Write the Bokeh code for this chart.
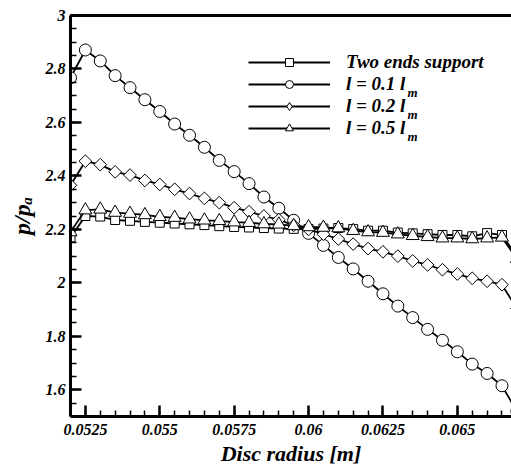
import math
from bokeh.plotting import figure
from bokeh.models import Range1d, FixedTicker, LinearAxis, Legend, LegendItem, Label
from bokeh.embed import file_html
from bokeh.resources import INLINE

# ---- data ----
radius = [0.052, 0.0525, 0.053, 0.0535, 0.054, 0.0545, 0.055, 0.0555, 0.056, 0.0565,
          0.057, 0.0575, 0.058, 0.0585, 0.059, 0.0595, 0.06, 0.0605, 0.061, 0.0615,
          0.062, 0.0625, 0.063, 0.0635, 0.064, 0.0645, 0.065, 0.0655, 0.066, 0.0665, 0.067]

two_ends = [2.170, 2.250, 2.248, 2.235, 2.232, 2.228, 2.225, 2.222, 2.219, 2.216,
            2.212, 2.209, 2.207, 2.205, 2.203, 2.202, 2.201, 2.203, 2.205, 2.201,
            2.195, 2.195, 2.188, 2.185, 2.182, 2.179, 2.179, 2.174, 2.186, 2.179, 2.100]

l_01 = [2.767, 2.871, 2.830, 2.775, 2.730, 2.685, 2.641, 2.594, 2.552, 2.507,
        2.458, 2.416, 2.371, 2.321, 2.279, 2.234, 2.185, 2.140, 2.095, 2.052,
        2.006, 1.959, 1.913, 1.870, 1.826, 1.785, 1.742, 1.696, 1.661, 1.615, 1.520]

l_02 = [2.365, 2.455, 2.442, 2.415, 2.403, 2.383, 2.368, 2.350, 2.334, 2.316,
        2.300, 2.281, 2.266, 2.250, 2.236, 2.215, 2.200, 2.182, 2.164, 2.145,
        2.128, 2.116, 2.100, 2.082, 2.067, 2.049, 2.033, 2.017, 2.006, 1.993, 1.904]

l_05 = [2.190, 2.272, 2.275, 2.263, 2.259, 2.254, 2.247, 2.244, 2.238, 2.234,
        2.232, 2.227, 2.225, 2.220, 2.219, 2.213, 2.209, 2.207, 2.205, 2.195,
        2.190, 2.188, 2.182, 2.176, 2.172, 2.167, 2.167, 2.164, 2.167, 2.170, 2.090]

series_labels = ["Two ends support", "l = 0.1 l", "l = 0.2 l", "l = 0.5 l"]
subscript = "m"

x_ticks = [0.0525, 0.055, 0.0575, 0.06, 0.0625, 0.065]
x_tick_labels = ["0.0525", "0.055", "0.0575", "0.06", "0.0625", "0.065"]
x_minor = [0.052, 0.0525, 0.053, 0.0535, 0.054, 0.0545, 0.055, 0.0555, 0.056, 0.0565,
           0.057, 0.0575, 0.058, 0.0585, 0.059, 0.0595, 0.06, 0.0605, 0.061, 0.0615,
           0.062, 0.0625, 0.063, 0.0635, 0.064, 0.0645, 0.065, 0.0655, 0.066, 0.0665]
y_ticks = [1.6, 1.8, 2.0, 2.2, 2.4, 2.6, 2.8, 3.0]
y_tick_labels = ["1.6", "1.8", "2", "2.2", "2.4", "2.6", "2.8", "3"]
y_minor = [1.5, 1.55, 1.6, 1.65, 1.7, 1.75, 1.8, 1.85, 1.9, 1.95, 2.0, 2.05, 2.1, 2.15,
           2.2, 2.25, 2.3, 2.35, 2.4, 2.45, 2.5, 2.55, 2.6, 2.65, 2.7, 2.75, 2.8, 2.85,
           2.9, 2.95, 3.0]

FONT = "Liberation Serif"
STYLE = "bold italic"

p = figure(width=511, height=469, output_backend="svg", toolbar_location=None,
           x_range=Range1d(0.052, 0.06682), y_range=Range1d(1.5, 3.0),
           min_border_left=70, min_border_right=0, min_border_top=15, min_border_bottom=53)
p.grid.visible = False
p.outline_line_color = None
p.background_fill_color = "white"
p.border_fill_color = "white"

def style_axis(ax, ticks, labels, minor):
    ax.ticker = FixedTicker(ticks=ticks, minor_ticks=minor)
    ax.major_label_overrides = {t: l for t, l in zip(ticks, labels)}
    ax.axis_line_width = 3
    ax.axis_line_color = "black"
    ax.major_tick_in = 11
    ax.major_tick_out = 0
    ax.minor_tick_in = 6
    ax.minor_tick_out = 0
    ax.major_tick_line_width = 2.5
    ax.minor_tick_line_width = 1.5
    ax.major_label_text_font = FONT
    ax.major_label_text_font_style = STYLE
    ax.major_label_text_font_size = "16px"
    ax.major_label_text_color = "black"
    ax.axis_label_text_font = FONT
    ax.axis_label_text_font_style = STYLE
    ax.axis_label_text_color = "black"

xa = p.xaxis[0]
style_axis(xa, x_ticks, x_tick_labels, x_minor)
xa.axis_label = "Disc radius [m]"
xa.axis_label_text_font_size = "22px"
xa.major_label_standoff = 7
xa.axis_label_standoff = 3

ya = p.yaxis[0]
style_axis(ya, y_ticks, y_tick_labels, y_minor)
ya.axis_label = "p/p\u2090"
ya.axis_label_text_font_size = "24px"
ya.major_label_standoff = 5
ya.axis_label_standoff = 8

top = LinearAxis(ticker=FixedTicker(ticks=[]), major_label_text_font_size="0px",
                 major_tick_in=0, major_tick_out=0, minor_tick_in=0, minor_tick_out=0,
                 axis_line_width=3, major_label_standoff=0)
p.add_layout(top, "above")

markers = [("square", 9, 0.0), ("circle", 12, 0.0), ("square", 9, math.pi / 4), ("triangle", 13, 0.0)]
data = [two_ends, l_01, l_02, l_05]
items = []
for i, ((mk, sz, ang), ys, lab) in enumerate(zip(markers, data, series_labels)):
    ln = p.line(radius, ys, line_color="black", line_width=1.8)
    sc = p.scatter(radius, ys, marker=mk, size=sz, angle=ang, fill_color="white",
                   line_color="black", line_width=1)
    if ang != 0.0:
        # legend sample for the rotated-square series (legend ignores marker angle)
        sc = p.scatter(radius, ys, marker="diamond", size=sz, fill_color="white",
                       line_color="black", line_width=1, visible=False)
    items.append(LegendItem(label=lab, renderers=[ln, sc]))

legend = Legend(items=items, location=(178, 277), glyph_width=82, glyph_height=20,
                label_height=20, spacing=0, padding=0, margin=0, label_standoff=16,
                border_line_color=None, background_fill_alpha=0,
                label_text_font=FONT, label_text_font_style=STYLE,
                label_text_font_size="19px", label_text_color="black")
p.add_layout(legend)

for yy in [324.2, 302.2, 280.2]:
    p.add_layout(Label(x=337, y=yy, x_units="screen", y_units="screen", text=subscript,
                       text_font=FONT, text_font_style=STYLE, text_font_size="13px",
                       text_align="left", text_baseline="middle", text_color="black"))

open("out.html", "w").write(file_html(p, INLINE))
